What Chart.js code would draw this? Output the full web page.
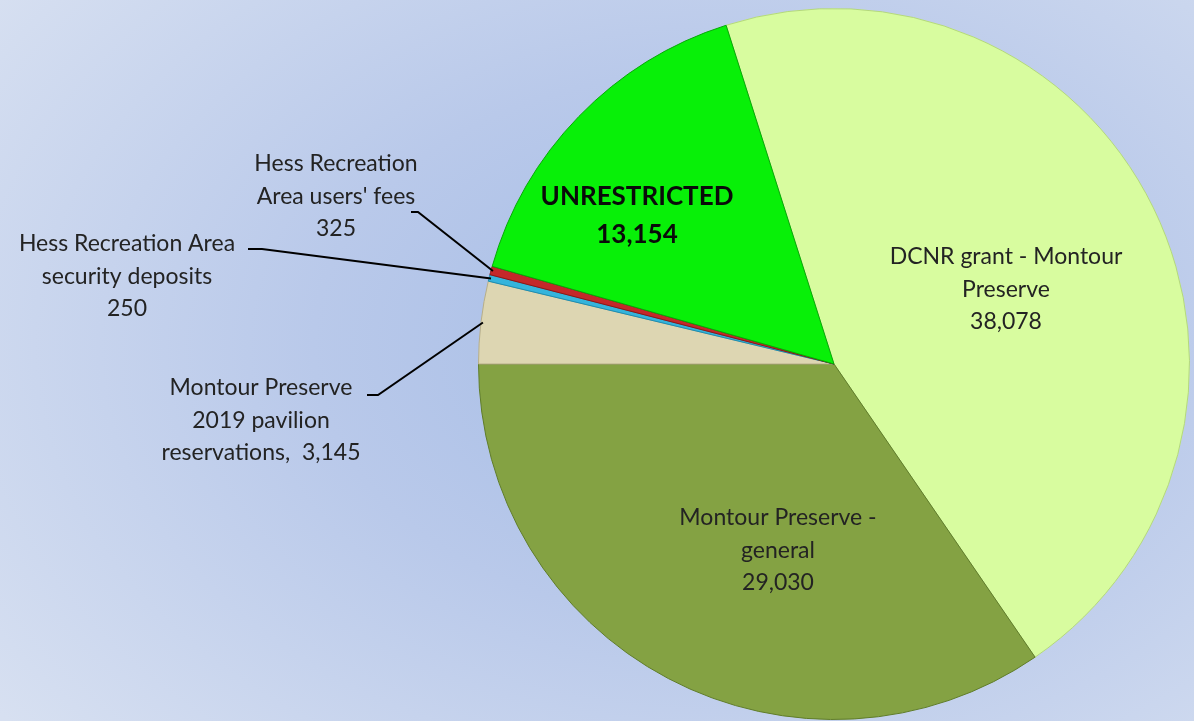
<!DOCTYPE html>
<html>
<head>
<meta charset="utf-8">
<script src="https://cdn.jsdelivr.net/npm/chart.js@4"></script>
<style>
  html, body { margin: 0; padding: 0; }
  body {
    width: 1194px; height: 721px; overflow: hidden;
    background: radial-gradient(ellipse 75% 85% at 60% 48%, #a5bce6 0%, #b9c9ea 45%, #d7e0f1 100%);
  }
  canvas { display: block; }
</style>
</head>
<body>
<canvas id="myChart" width="1194" height="721"></canvas>
<script>
const categories = ["DCNR grant - Montour Preserve", "Montour Preserve - general", "Montour Preserve 2019 pavilion reservations",
    "Hess Recreation Area security deposits", "Hess Recreation Area users' fees", "UNRESTRICTED"];
const amounts = [38078, 29030, 3145, 250, 325, 13154];
const labelText = [
    ["DCNR grant - Montour", "Preserve"],
    ["Montour Preserve -", "general"],
    ["Montour Preserve", "2019 pavilion", "reservations,  "],
    ["Hess Recreation Area", "security deposits"],
    ["Hess Recreation", "Area users' fees"],
    ["UNRESTRICTED"]
];
const sliceColors = ["#d8fc9f", "#84a243", "#ddd6b2", "#35b4dc", "#c4282a", "#08f008"];
const edgeColors = ["#b4d87c", "#5f7c28", "#b7ae88", "#1d8db0", "#8e1515", "#06a806"];

const fmt = n => n.toLocaleString("en-US");

// where each label block sits (center x, first line y) and its leader line
const labelPos = [
    { x: 1006, y: 257 },
    { x: 778, y: 518 },
    { x: 261, y: 388 },
    { x: 127, y: 244 },
    { x: 336, y: 164 },
    { x: 637, y: 197 }
];
const leaders = {
    2: [[367, 395], [378, 395]],
    3: [[248, 249], [262, 249]],
    4: [[411, 212], [418, 212]]
};

const labelPlugin = {
    id: "sliceLabels",
    afterDraw(chart) {
        const c = chart.ctx;
        const arcs = chart.getDatasetMeta(0).data;
        c.save();
        // leader lines
        c.strokeStyle = "#000";
        c.lineWidth = 2;
        Object.keys(leaders).forEach(k => {
            const a = arcs[k];
            const mid = (a.startAngle + a.endAngle) / 2;
            const ex = a.x + Math.cos(mid) * (a.outerRadius - 2);
            const ey = a.y + Math.sin(mid) * (a.outerRadius - 2);
            const pts = leaders[k];
            c.beginPath();
            c.moveTo(pts[0][0], pts[0][1]);
            c.lineTo(pts[1][0], pts[1][1]);
            c.lineTo(ex, ey);
            c.stroke();
        });
        c.textAlign = "center";
        c.textBaseline = "middle";
        labelText.forEach((lines, i) => {
            const p = labelPos[i];
            const bold = i === 5;
            c.font = (bold ? "bold 26px" : "23px") + " Lato, 'Open Sans', sans-serif";
            c.fillStyle = bold ? "#0a0a0a" : "#232323";
            const all = lines.slice();
            if (i === 2) all[2] = all[2] + fmt(amounts[i]);
            else all.push(fmt(amounts[i]));
            const lh = bold ? 38 : 32.3;
            all.forEach((t, j) => c.fillText(t, p.x, p.y + j * lh));
        });
        c.restore();
    }
};

const ctx = document.getElementById("myChart").getContext("2d");
new Chart(ctx, {
    type: "pie",
    data: {
        labels: categories,
        datasets: [{
            data: amounts,
            backgroundColor: sliceColors,
            borderColor: edgeColors,
            borderWidth: 1
        }]
    },
    options: {
        responsive: false,
        animation: false,
        rotation: -17.67,
        layout: { padding: { left: 478, right: 4, top: 8, bottom: 1 } },
        plugins: {
            legend: { display: false },
            tooltip: { enabled: false }
        }
    },
    plugins: [labelPlugin]
});
</script>
</body>
</html>
